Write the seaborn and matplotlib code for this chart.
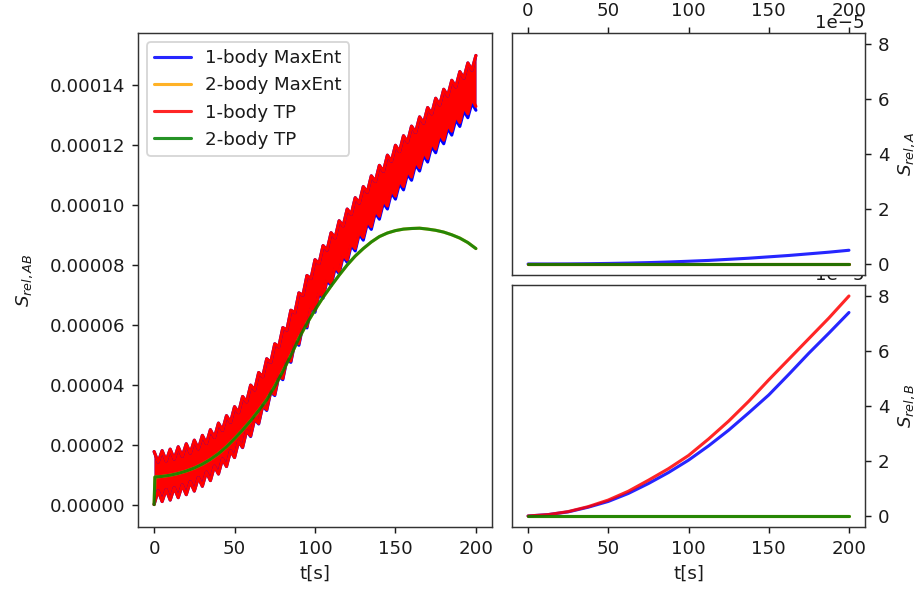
import numpy as np
import pandas as pd
import matplotlib
matplotlib.use("Agg")
import matplotlib.pyplot as plt
import seaborn as sns

# ---------------- data (values in units of 1e-5) ----------------
SCALE = 1e-5

# left panel: fast-oscillating 1-body curves, drawn as the band they fill.
# envelope tips at t = 0,5,...,200 and envelope valleys at t = 2.5,7.5,...,197.5
t_tip = list(range(0, 201, 5))
t_valley = [2.5 + 5 * k for k in range(40)]
red_tip_hi = [1.77, 1.80, 1.85, 1.93, 2.03, 2.15, 2.31, 2.50, 2.72, 2.97, 3.27, 3.61, 3.99, 4.41,
              4.87, 5.37, 5.91, 6.49, 7.07, 7.65, 8.18, 8.65, 9.08, 9.48, 9.87, 10.25, 10.62, 10.98,
              11.33, 11.67, 12.00, 12.32, 12.64, 12.95, 13.26, 13.57, 13.87, 14.17, 14.46, 14.75, 15.00]
red_tip_lo = [0.00, 0.10, 0.15, 0.23, 0.33, 0.45, 0.61, 0.80, 1.02, 1.27, 1.57, 1.91, 2.29, 2.71,
              3.17, 3.67, 4.21, 4.79, 5.37, 5.95, 6.48, 6.95, 7.38, 7.78, 8.17, 8.55, 8.92, 9.28,
              9.63, 9.97, 10.30, 10.62, 10.94, 11.25, 11.56, 11.87, 12.17, 12.47, 12.76, 13.05, 13.30]
red_val_hi = [1.42, 1.46, 1.52, 1.61, 1.72, 1.86, 2.04, 2.24, 2.48, 2.75, 3.07, 3.43, 3.83, 4.27,
              4.75, 5.27, 5.83, 6.41, 6.99, 7.55, 8.05, 8.50, 8.91, 9.31, 9.69, 10.07, 10.43, 10.79,
              11.13, 11.47, 11.79, 12.11, 12.43, 12.74, 13.05, 13.35, 13.65, 13.95, 14.24, 14.51]
red_val_lo = [0.46, 0.50, 0.56, 0.65, 0.76, 0.90, 1.08, 1.28, 1.52, 1.79, 2.11, 2.47, 2.87, 3.31,
              3.79, 4.31, 4.87, 5.45, 6.03, 6.59, 7.09, 7.54, 7.95, 8.35, 8.73, 9.11, 9.47, 9.83,
              10.17, 10.51, 10.83, 11.15, 11.47, 11.78, 12.09, 12.39, 12.69, 12.99, 13.28, 13.55]
# blue: upper side hidden below red (same as red), lower tips slightly lower
blue_tip_hi = list(red_tip_hi)
blue_val_hi = list(red_val_hi)
blue_tip_lo = [0.00, 0.10, 0.15, 0.23, 0.33, 0.45, 0.61, 0.80, 1.02, 1.27, 1.57, 1.90, 2.27, 2.69,
               3.14, 3.64, 4.17, 4.75, 5.32, 5.90, 6.42, 6.89, 7.31, 7.71, 8.09, 8.47, 8.83, 9.19,
               9.53, 9.87, 10.20, 10.51, 10.83, 11.14, 11.44, 11.75, 12.05, 12.34, 12.63, 12.92, 13.17]
blue_val_lo = [0.46, 0.50, 0.56, 0.65, 0.76, 0.90, 1.08, 1.28, 1.52, 1.79, 2.10, 2.46, 2.85, 3.29,
               3.76, 4.28, 4.83, 5.41, 5.98, 6.54, 7.03, 7.48, 7.88, 8.28, 8.65, 9.03, 9.38, 9.74,
               10.07, 10.41, 10.72, 11.04, 11.35, 11.66, 11.96, 12.26, 12.56, 12.85, 13.14, 13.41]

# left panel: smooth 2-body curves
t_smooth = [0, 0.5, 5, 10, 15, 20, 25, 30, 35, 40, 45, 50, 55, 60, 65, 70, 75, 80, 85, 90, 95, 100,
            105, 110, 115, 120, 125, 130, 135, 140, 145, 150, 155, 160, 165, 170, 175, 180, 185,
            190, 195, 200]
green_ab = [0, 0.92, 0.94, 0.98, 1.04, 1.12, 1.22, 1.35, 1.51, 1.70, 1.93, 2.20, 2.49, 2.80, 3.14,
            3.50, 3.95, 4.45, 4.98, 5.55, 6.05, 6.50, 6.92, 7.30, 7.66, 8.00, 8.30, 8.55, 8.77,
            8.95, 9.07, 9.15, 9.20, 9.22, 9.23, 9.20, 9.16, 9.10, 9.01, 8.90, 8.75, 8.55]
orange_ab = list(green_ab)

# right panels
t_right = [0, 12.5, 25, 37.5, 50, 62.5, 75, 87.5, 100, 112.5, 125, 137.5, 150, 162.5, 175, 187.5, 200]
blue_a = [0, 0.0, 0.003, 0.01, 0.02, 0.033, 0.05, 0.072, 0.10, 0.13, 0.17, 0.21, 0.26, 0.31, 0.37,
          0.43, 0.50]
orange_a = [0] * 17
red_a = [0] * 17
green_a = [0] * 17
blue_b = [0, 0.05, 0.15, 0.32, 0.53, 0.82, 1.18, 1.58, 2.03, 2.55, 3.12, 3.75, 4.40, 5.15, 5.92,
          6.65, 7.40]
red_b = [0, 0.05, 0.16, 0.34, 0.58, 0.90, 1.30, 1.72, 2.20, 2.80, 3.45, 4.17, 4.95, 5.70, 6.45,
         7.20, 8.00]
orange_b = [0] * 17
green_b = [0] * 17

labels = ["1-body MaxEnt", "2-body MaxEnt", "1-body TP", "2-body TP"]
colors = ["blue", "orange", "red", "green"]


def envelope(tip, val):
    df = pd.concat([pd.DataFrame({"t": t_tip, "v": tip}),
                    pd.DataFrame({"t": t_valley, "v": val})])
    df = df.sort_values("t").reset_index(drop=True)
    df["v"] = df["v"] * SCALE
    return df


# ---------------- style ----------------
sns.set_style("ticks")
plt.rcParams['font.family'] = ['DejaVu Sans']
plt.rcParams.update({"axes.linewidth": 0.8, "xtick.major.width": 0.8, "ytick.major.width": 0.8,
                     "xtick.major.size": 3.5, "ytick.major.size": 3.5, "font.size": 10,
                     "axes.edgecolor": "0.2", "xtick.color": "0.1", "ytick.color": "0.1",
                     "text.color": "0.1", "axes.labelcolor": "0.1"})

DPI = 131
fig = plt.figure(figsize=(920 / DPI, 596 / DPI), dpi=DPI)
ax_l = fig.add_axes([138 / 920, 69 / 596, 354 / 920, 494 / 596])
ax_b = fig.add_axes([512 / 920, 69 / 596, 353 / 920, 242 / 596])
ax_t = fig.add_axes([512 / 920, 321 / 596, 353 / 920, 242 / 596], sharey=ax_b)

LW = 1.7
ALPHA = 0.85


def band(ax, tip_hi, val_hi, tip_lo, val_lo, color, label):
    hi = envelope(tip_hi, val_hi)
    lo = envelope(tip_lo, val_lo)
    ax.fill_between(hi["t"], lo["v"], hi["v"], color=color, lw=0)
    sns.lineplot(data=hi, x="t", y="v", ax=ax, color=color, lw=LW, label=label,
                 estimator=None, sort=False, legend=False)
    sns.lineplot(data=lo, x="t", y="v", ax=ax, color=color, lw=LW,
                 estimator=None, sort=False, legend=False)


# left panel (plot order: blue, orange, red, green)
band(ax_l, blue_tip_hi, blue_val_hi, blue_tip_lo, blue_val_lo, "blue", labels[0])
sns.lineplot(x=t_smooth, y=np.array(orange_ab) * SCALE, ax=ax_l, color="orange", lw=LW,
             alpha=ALPHA, label=labels[1], estimator=None, sort=False, legend=False)
band(ax_l, red_tip_hi, red_val_hi, red_tip_lo, red_val_lo, "red", labels[2])
sns.lineplot(x=t_smooth, y=np.array(green_ab) * SCALE, ax=ax_l, color="green", lw=LW,
             alpha=ALPHA, label=labels[3], estimator=None, sort=False, legend=False)

handles = [plt.Line2D([], [], color=c, lw=LW, alpha=ALPHA) for c in colors]
ax_l.legend(handles, labels, loc="upper left")
ax_l.set_xlabel("t[s]")
ax_l.set_ylabel(r"$S_{rel,AB}$", labelpad=8)

# top right
for vals, c in zip([blue_a, orange_a, red_a, green_a], colors):
    sns.lineplot(x=t_right, y=np.array(vals) * SCALE, ax=ax_t, color=c, alpha=ALPHA, lw=LW,
                 estimator=None, sort=False)
ax_t.xaxis.tick_top()
ax_t.yaxis.tick_right()
ax_t.yaxis.set_label_position("right")
ax_t.set_ylabel(r"$S_{rel,A}$")
ax_t.set_xlabel("")

# bottom right
for vals, c in zip([blue_b, orange_b, red_b, green_b], colors):
    sns.lineplot(x=t_right, y=np.array(vals) * SCALE, ax=ax_b, color=c, alpha=ALPHA, lw=LW,
                 estimator=None, sort=False)
ax_b.yaxis.tick_right()
ax_b.yaxis.set_label_position("right")
ax_b.set_ylabel(r"$S_{rel,B}$")
ax_b.set_xlabel("t[s]")

for ax in (ax_l, ax_t, ax_b):
    for s in ax.spines.values():
        s.set_visible(True)

fig.savefig("out.png", dpi=DPI)
